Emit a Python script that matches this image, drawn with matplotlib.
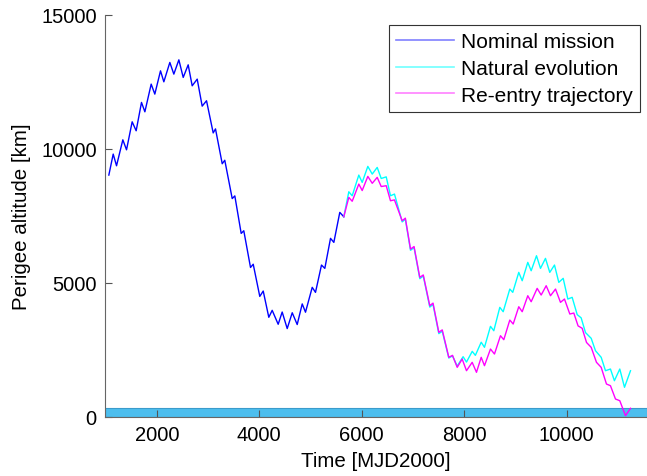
import matplotlib
matplotlib.use("Agg")
import matplotlib.pyplot as plt
from matplotlib.lines import Line2D

plt.rcParams['font.family'] = ['Liberation Sans', 'DejaVu Sans']

# ---- data ----
nom_t = [1065, 1150, 1215, 1338, 1410, 1520, 1598, 1702, 1768, 1891, 1962, 2073,
         2138, 2255, 2333, 2431, 2516, 2613, 2691, 2789, 2886, 2971, 3101, 3146,
         3277, 3327, 3472, 3523, 3647, 3698, 3829, 3882, 4010, 4077, 4186, 4252,
         4369, 4447, 4545, 4643, 4740, 4838, 4902, 5033, 5097, 5214, 5279, 5390,
         5455, 5571, 5649]
nom_h = [9027, 9810, 9374, 10343, 9970, 11015, 10680, 11738, 11388, 12421, 12048, 12917,
         12507, 13230, 12794, 13327, 12671, 13141, 12358, 12607, 11600, 11800, 10600, 10750,
         9450, 9580, 8150, 8250, 6850, 6950, 5580, 5700, 4500, 4700, 3720, 3980,
         3460, 3917, 3300, 3890, 3450, 4220, 3910, 4838, 4651, 5670, 5546, 6666,
         6516, 7635, 7471]

nat_t = [5649, 5747, 5813, 5942, 6008, 6118, 6204, 6301, 6379, 6477, 6560, 6638,
         6788, 6850, 6951, 7020, 7132, 7200, 7327, 7390, 7503, 7570, 7698, 7770,
         7862, 7977, 8043, 8155, 8216, 8330, 8394, 8511, 8576, 8693, 8759, 8888,
         8946, 9063, 9130, 9239, 9305, 9409, 9487, 9584, 9668, 9760, 9844, 9930,
         10020, 10105, 10203, 10280, 10365, 10476, 10560, 10671, 10755, 10852, 10929,
         11034, 11126, 11243]
nat_h = [7471, 8404, 8255, 9027, 8754, 9351, 9064, 9313, 8900, 8960, 8255, 8318,
         7280, 7380, 6220, 6320, 5160, 5260, 4100, 4200, 3110, 3200, 2200, 2280,
         1900, 2250, 2050, 2450, 2300, 2790, 2600, 3383, 3219, 4092, 3928, 4774,
         4651, 5397, 5084, 5770, 5457, 6017, 5546, 5919, 5397, 5670, 5024, 5174,
         4401, 4465, 3820, 3700, 3150, 2936, 2473, 2227, 1727, 1790, 1354,
         1790, 1108, 1727]

ree_t = [5649, 5747, 5813, 5942, 6008, 6118, 6204, 6301, 6379, 6477, 6560, 6638,
         6788, 6850, 6951, 7020, 7132, 7200, 7327, 7390, 7503, 7570, 7698, 7770,
         7862, 7959, 8043, 8154, 8238, 8330, 8394, 8511, 8589, 8706, 8771, 8888,
         8954, 9063, 9130, 9239, 9305, 9422, 9500, 9598, 9682, 9780, 9877, 9955,
         10059, 10137, 10220, 10300, 10385, 10476, 10579, 10671, 10774, 10852, 10950,
         11034, 11145, 11243]
ree_h = [7471, 8194, 8050, 8691, 8450, 8978, 8720, 8941, 8600, 8630, 8069, 8100,
         7323, 7420, 6266, 6360, 5210, 5300, 4152, 4250, 3160, 3250, 2227, 2300,
         1853, 2163, 1727, 2040, 1667, 2227, 1915, 2536, 2350, 3033, 2884, 3618,
         3469, 4115, 3928, 4525, 4301, 4800, 4551, 4898, 4525, 4774, 4278, 4401,
         3842, 3879, 3400, 3310, 2780, 2600, 2040, 1853, 1231, 1168, 671,
         608, 50, 324]

band_h = [0, 330]
labels = ["Nominal mission", "Natural evolution", "Re-entry trajectory"]
x_ticks = [2000, 4000, 6000, 8000, 10000]
y_ticks = [0, 5000, 10000, 15000]

# ---- figure ----
fig = plt.figure(figsize=(6.47, 4.77), dpi=100)
ax = fig.add_axes([105 / 647, 59 / 477, 542 / 647, (418 - 16) / 477])

ax.axhspan(band_h[0], band_h[1], facecolor='#4DBEEE', edgecolor='#3A9BCB',
           linewidth=0.8, zorder=1)

ax.plot(nom_t, nom_h, color='#0000FF', lw=1.0, zorder=3)
ax.plot(nat_t, nat_h, color='#00FFFF', lw=1.0, zorder=3)
ax.plot(ree_t, ree_h, color='#FF00FF', lw=1.0, zorder=4)

ax.set_xlim(990, 11565)
ax.set_ylim(0, 15000)
ax.set_xticks(x_ticks)
ax.set_yticks(y_ticks)
ax.tick_params(direction='in', length=5, width=0.8, color='#555555',
               labelsize=14.5, labelcolor='black', pad=6)
for s in ['top', 'right']:
    ax.spines[s].set_visible(False)
for s in ['left', 'bottom']:
    ax.spines[s].set_color('#666666')
    ax.spines[s].set_linewidth(0.8)

ax.set_xlabel("Time [MJD2000]", fontsize=14.8, labelpad=5)
ax.set_ylabel("Perigee altitude [km]", fontsize=14.8, labelpad=7)

handles = [Line2D([], [], color='#8080FF', lw=1.2),
           Line2D([], [], color='#70FFFF', lw=1.2),
           Line2D([], [], color='#FF80FF', lw=1.2)]
leg = fig.legend(handles, labels, loc='upper right',
                 bbox_to_anchor=(640 / 647, 1 - 26 / 477),
                 bbox_transform=fig.transFigure,
                 fontsize=15, frameon=True, fancybox=False, framealpha=1,
                 edgecolor='#333333', handlelength=2.8, handletextpad=0.35,
                 labelspacing=0.38, borderpad=0.33, borderaxespad=0)
leg.get_frame().set_linewidth(0.8)

fig.savefig("out.png", dpi=100)
